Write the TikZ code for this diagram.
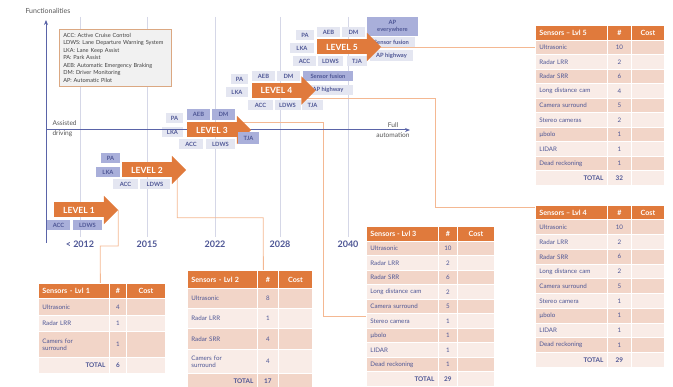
\documentclass[tikz,border=0pt]{standalone}
\usepackage{fontspec}
\setmainfont{Lato}
\usepackage{tikz}
\usetikzlibrary{arrows.meta}

\pgfdeclarelayer{background}
\pgfsetlayers{background,main}

\definecolor{lvlorange}{HTML}{E07A3C}
\definecolor{linkorange}{HTML}{F4B892}
\definecolor{axisblue}{HTML}{5A64A8}
\definecolor{gridgrey}{HTML}{D5D7E7}
\definecolor{inkblue}{HTML}{4E5695}
\definecolor{featdark}{HTML}{A9AFDA}
\definecolor{featlight}{HTML}{E4E6F1}
\definecolor{rowdark}{HTML}{F2D5C8}
\definecolor{rowlight}{HTML}{F9ECE7}
\definecolor{keyfill}{HTML}{F1F1F1}
\definecolor{keyline}{HTML}{DBA882}
\definecolor{labelgrey}{HTML}{555555}

\tikzset{
  level/.style={fill=lvlorange, text=white, font=\fontsize{8.5}{9}\selectfont\bfseries,
    minimum width=50pt, minimum height=15pt, inner sep=0pt},
  feat/.style={fill=featlight, text=inkblue, font=\fontsize{5.8}{6.5}\selectfont\bfseries,
    minimum height=10pt, inner sep=0pt},
  featnew/.style={feat, fill=featdark},
  year/.style={text=inkblue, font=\fontsize{9}{9}\selectfont\bfseries},
  link/.style={linkorange, line width=0.8pt},
  axis/.style={axisblue, line width=1pt, -{Stealth[length=5pt,width=4pt]}},
  gridline/.style={gridgrey, line width=0.6pt},
  cell/.style={draw=white, line width=0.8pt, anchor=north west, inner ysep=0pt, inner xsep=4pt,
    text=inkblue, font=\fontsize{6.2}{7.2}\selectfont},
  namecell/.style={cell, text width=64pt, align=left},
  numcell/.style={cell, inner xsep=0pt},
  totalcell/.style={cell, text width=64pt, align=right, font=\fontsize{6.4}{7}\selectfont\bfseries},
  headcell/.style={cell, fill=lvlorange, text=white, font=\fontsize{7.2}{8}\selectfont\bfseries},
  headnum/.style={headcell, inner xsep=0pt},
  key/.style={draw=keyline, fill=keyfill, line width=0.6pt, anchor=north west, text=black!75,
    text width=104pt, inner xsep=4pt, minimum height=57pt, align=left,
    font=\fontsize{5.6}{7.5}\selectfont}
}

\begin{document}
\begin{tikzpicture}[x=1pt, y=-1pt]
  \useasboundingbox (0,0) rectangle (673,387);

  % year grid
  \begin{pgfonlayer}{background}
    \foreach \gx in {80,147,215,280,348}
      \draw[gridline] (\gx,17) -- (\gx,237);
  \end{pgfonlayer}

  % abbreviations
  \node[key] (abbrev) at (59,29) {ACC: Active Cruise Control\\
    LDWS: Lane Departure Warning System\\
    LKA: Lane Keep Assist\\
    PA: Park Assist\\
    AEB: Automatic Emergency Braking\\
    DM: Driver Monitoring\\
    AP: Automatic Pilot};

  % Sensors - Lvl 1
  \node[headcell, text width=63pt, align=left, minimum height=15pt] (t1name) at (38,283) {Sensors - Lvl 1};
  \node[headnum, minimum width=17pt, minimum height=15pt] (t1num) at (109,283) {\#};
  \node[headnum, minimum width=39pt, minimum height=15pt] (t1cost) at (126,283) {Cost};
  \foreach \nm/\num/\ry/\rh [count=\i] in {Ultrasonic/4/298/17, Radar LRR/1/315/16, {Camers for\\surround}/1/331/26} {
    \ifodd\i\def\rc{rowdark}\else\def\rc{rowlight}\fi
    \node[namecell, text width=63pt, fill=\rc, minimum height=\rh pt] (t1r\i) at (38,\ry) {\nm};
    \node[numcell, fill=\rc, minimum width=17pt, minimum height=\rh pt] (t1n\i) at (109,\ry) {\num};
    \node[numcell, fill=\rc, minimum width=39pt, minimum height=\rh pt] (t1c\i) at (126,\ry) {};
  }
  \node[totalcell, text width=63pt, fill=rowlight, minimum height=16pt] (t1r4) at (38,357) {TOTAL};
  \node[numcell, fill=rowlight, minimum width=17pt, minimum height=16pt, font=\fontsize{6.4}{7}\selectfont\bfseries] (t1n4) at (109,357) {6};
  \node[numcell, fill=rowlight, minimum width=39pt, minimum height=16pt] (t1c4) at (126,357) {};

  % Sensors - Lvl 2
  \node[headcell, text width=62pt, align=left, minimum height=18pt] (t2name) at (187,270) {Sensors - Lvl 2};
  \node[headnum, minimum width=21pt, minimum height=18pt] (t2num) at (257,270) {\#};
  \node[headnum, minimum width=34pt, minimum height=18pt] (t2cost) at (278,270) {Cost};
  \foreach \nm/\num/\ry/\rh [count=\i] in {Ultrasonic/8/288/20, Radar LRR/1/308/20, Radar SRR/4/328/21, {Camers for\\surround}/4/349/24} {
    \ifodd\i\def\rc{rowdark}\else\def\rc{rowlight}\fi
    \node[namecell, text width=62pt, fill=\rc, minimum height=\rh pt] (t2r\i) at (187,\ry) {\nm};
    \node[numcell, fill=\rc, minimum width=21pt, minimum height=\rh pt] (t2n\i) at (257,\ry) {\num};
    \node[numcell, fill=\rc, minimum width=34pt, minimum height=\rh pt] (t2c\i) at (278,\ry) {};
  }
  \node[totalcell, text width=62pt, fill=rowdark, minimum height=15pt] (t2r5) at (187,373) {TOTAL};
  \node[numcell, fill=rowdark, minimum width=21pt, minimum height=15pt, font=\fontsize{6.4}{7}\selectfont\bfseries] (t2n5) at (257,373) {17};
  \node[numcell, fill=rowdark, minimum width=34pt, minimum height=15pt] (t2c5) at (278,373) {};

  % Sensors - Lvl 3
  \node[headcell, minimum height=15pt] (t3name) at (366,226) {\hbox to 64pt{Sensors - Lvl 3\hfil}};
  \node[headnum, minimum width=19pt, minimum height=15pt] (t3num) at (438,226) {\#};
  \node[headnum, minimum width=37pt, minimum height=15pt] (t3cost) at (457,226) {Cost};
  \foreach \nm/\num [count=\i] in {Ultrasonic/10, Radar LRR/2, Radar SRR/6, Long distance cam/2, Camera surround/5, Stereo camera/1, µbolo/1, LIDAR/1, Dead reckoning/1} {
    \pgfmathsetmacro{\ry}{241+(\i-1)*14.5}
    \ifodd\i\def\rc{rowdark}\else\def\rc{rowlight}\fi
    \node[namecell, fill=\rc, minimum height=14.5pt] (t3r\i) at (366,\ry) {\nm};
    \node[numcell, fill=\rc, minimum width=19pt, minimum height=14.5pt] (t3n\i) at (438,\ry) {\num};
    \node[numcell, fill=\rc, minimum width=37pt, minimum height=14.5pt] (t3c\i) at (457,\ry) {};
  }
  \node[totalcell, fill=rowlight, minimum height=14.5pt] (t3r10) at (366,371.5) {TOTAL};
  \node[numcell, fill=rowlight, minimum width=19pt, minimum height=14.5pt, font=\fontsize{6.4}{7}\selectfont\bfseries] (t3n10) at (438,371.5) {29};
  \node[numcell, fill=rowlight, minimum width=37pt, minimum height=14.5pt] (t3c10) at (457,371.5) {};

  % Sensors - Lvl 4
  \node[headcell, minimum height=14.5pt] (t4name) at (535,205) {\hbox to 64pt{Sensors -- Lvl 4\hfil}};
  \node[headnum, minimum width=24pt, minimum height=14.5pt] (t4num) at (607,205) {\#};
  \node[headnum, minimum width=33pt, minimum height=14.5pt] (t4cost) at (631,205) {Cost};
  \foreach \nm/\num [count=\i] in {Ultrasonic/10, Radar LRR/2, Radar SRR/6, Long distance cam/2, Camera surround/5, Stereo camera/1, µbolo/1, LIDAR/1, Dead reckoning/1} {
    \pgfmathsetmacro{\ry}{219.5+(\i-1)*14.75}
    \ifodd\i\def\rc{rowdark}\else\def\rc{rowlight}\fi
    \node[namecell, fill=\rc, minimum height=14.75pt] (t4r\i) at (535,\ry) {\nm};
    \node[numcell, fill=\rc, minimum width=24pt, minimum height=14.75pt] (t4n\i) at (607,\ry) {\num};
    \node[numcell, fill=\rc, minimum width=33pt, minimum height=14.75pt] (t4c\i) at (631,\ry) {};
  }
  \node[totalcell, fill=rowlight, minimum height=14.75pt] (t4r10) at (535,352.25) {TOTAL};
  \node[numcell, fill=rowlight, minimum width=24pt, minimum height=14.75pt, font=\fontsize{6.4}{7}\selectfont\bfseries] (t4n10) at (607,352.25) {29};
  \node[numcell, fill=rowlight, minimum width=33pt, minimum height=14.75pt] (t4c10) at (631,352.25) {};

  % Sensors - Lvl 5
  \node[headcell, minimum height=15pt] (t5name) at (535,25) {\hbox to 64pt{Sensors -- Lvl 5\hfil}};
  \node[headnum, minimum width=24pt, minimum height=15pt] (t5num) at (607,25) {\#};
  \node[headnum, minimum width=33pt, minimum height=15pt] (t5cost) at (631,25) {Cost};
  \foreach \nm/\num [count=\i] in {Ultrasonic/10, Radar LRR/2, Radar SRR/6, Long distance cam/4, Camera surround/5, Stereo cameras/2, µbolo/1, LIDAR/1, Dead reckoning/1} {
    \pgfmathsetmacro{\ry}{40+(\i-1)*14.5}
    \ifodd\i\def\rc{rowdark}\else\def\rc{rowlight}\fi
    \node[namecell, fill=\rc, minimum height=14.5pt] (t5r\i) at (535,\ry) {\nm};
    \node[numcell, fill=\rc, minimum width=24pt, minimum height=14.5pt] (t5n\i) at (607,\ry) {\num};
    \node[numcell, fill=\rc, minimum width=33pt, minimum height=14.5pt] (t5c\i) at (631,\ry) {};
  }
  \node[totalcell, fill=rowlight, minimum height=14.5pt] (t5r10) at (535,170.5) {TOTAL};
  \node[numcell, fill=rowlight, minimum width=24pt, minimum height=14.5pt, font=\fontsize{6.4}{7}\selectfont\bfseries] (t5n10) at (607,170.5) {32};
  \node[numcell, fill=rowlight, minimum width=33pt, minimum height=14.5pt] (t5c10) at (631,170.5) {};

  % functions per level
  \node[featnew, minimum width=23pt] (f1acc) at (58.5,225.5) {ACC};
  \node[featnew, minimum width=29pt] (f1ldws) at (87.5,225.5) {LDWS};

  \node[featnew, minimum width=19pt] (f2pa) at (110.5,158) {PA};
  \node[featnew, minimum width=24pt] (f2lka) at (108,172) {LKA};
  \node[feat, minimum width=25pt] (f2acc) at (125.5,184) {ACC};
  \node[feat, minimum width=30pt] (f2ldws) at (155,184) {LDWS};

  \node[feat, minimum width=17pt] (f3pa) at (174.5,118) {PA};
  \node[featnew, minimum width=23pt, minimum height=11pt] (f3aeb) at (198.5,114.5) {AEB};
  \node[featnew, minimum width=23pt, minimum height=11pt] (f3dm) at (223.5,114.5) {DM};
  \node[feat, minimum width=21pt] (f3lka) at (172.5,132) {LKA};
  \node[feat, minimum width=24pt] (f3acc) at (191,144.5) {ACC};
  \node[feat, minimum width=29pt] (f3ldws) at (220.5,144.5) {LDWS};

  \node[feat, minimum width=17pt] (f4pa) at (239.5,79) {PA};
  \node[feat, minimum width=23pt] (f4aeb) at (263.5,76) {AEB};
  \node[feat, minimum width=23pt] (f4dm) at (288.5,76) {DM};
  \node[featnew, minimum width=50pt] (f4fusion) at (328,76) {Sensor fusion};
  \node[feat, minimum width=22pt] (f4lka) at (237,92) {LKA};
  \node[feat, minimum width=50pt] (f4aphw) at (328,90) {AP highway};
  \node[feat, minimum width=25pt] (f4acc) at (260.5,105) {ACC};
  \node[feat, minimum width=26pt] (f4ldws) at (287.5,105) {LDWS};
  \node[feat, minimum width=21pt] (f4tja) at (312.5,105) {TJA};

  \node[feat, minimum width=18pt] (f5pa) at (305,35) {PA};
  \node[feat, minimum width=23pt] (f5aeb) at (328.5,32) {AEB};
  \node[feat, minimum width=23pt] (f5dm) at (353.5,32) {DM};
  \node[featnew, minimum width=51pt, minimum height=19pt, align=center] (f5apall) at (392.5,26.5) {AP\\everywhere};
  \node[feat, minimum width=24pt] (f5lka) at (302,48) {LKA};
  \node[feat, minimum width=47pt] (f5fusion) at (391.5,42.5) {Sensor fusion};
  \node[feat, minimum width=43pt, minimum height=11pt] (f5aphw) at (391.5,55.5) {AP highway};
  \node[feat, minimum width=23pt] (f5acc) at (304.5,61) {ACC};
  \node[feat, minimum width=25pt] (f5ldws) at (330.5,61) {LDWS};
  \node[feat, minimum width=20pt] (f5tja) at (357,61) {TJA};

  % axes
  \draw[axis] (46,243) -- (46,20);
  \draw[axis] (46,130) -- (410,130);

  % level arrows
  \node[level] (l1) at (79,210) {LEVEL 1};
  \node[level] (l2) at (147,170) {LEVEL 2};
  \node[level] (l3) at (212,130) {LEVEL 3};
  \node[level] (l4) at (276.5,90.5) {LEVEL 4};
  \node[level] (l5) at (342,47) {LEVEL 5};
  \foreach \l in {l1,l2,l3,l4,l5} {
    \coordinate (\l tip) at ([xshift=14pt]\l.east);
    \fill[lvlorange] ([xshift=-0.3pt,yshift=6.5pt]\l.north east) -- (\l tip)
      -- ([xshift=-0.3pt,yshift=-6.5pt]\l.south east) -- cycle;
  }
  \node[featnew, minimum width=21pt, minimum height=12pt] (f3tja) at (248.5,138) {TJA};

  % links from each level to its sensor table
  \begin{pgfonlayer}{background}
    \draw[link] (l1tip) |- ++(-18,36) -- ([xshift=26.5pt]t1name.north);
    \draw[link] ([xshift=5pt]l2.south east) |- ++(86,40) -- ([xshift=-4.5pt]t2num.north);
    \draw[link] (l3.north east) -- ++(86,0) |- ([yshift=-3pt]t3r6.north west);
    \draw[link] (l4.south east) -- ++(134,0) |- ([yshift=-2pt]t4name.north west);
    \draw[link] (l5tip) -- (l5tip -| t5r1.west);
  \end{pgfonlayer}

  % labels
  \node[anchor=west, text=labelgrey, font=\fontsize{7}{8}\selectfont] (yname) at (22,11) {Functionalities};
  \node[anchor=west, align=left, text=labelgrey, font=\fontsize{6.6}{10}\selectfont] (xstart) at (49,129) {Assisted\\driving};
  \node[align=center, text=labelgrey, font=\fontsize{6.6}{10}\selectfont] (xend) at (393,130) {Full\\automation};
  \node[year] (y2012) at (80,244) {< 2012};
  \node[year] (y2015) at (147,244) {2015};
  \node[year] (y2022) at (215,244) {2022};
  \node[year] (y2028) at (280,244) {2028};
  \node[year] (y2040) at (348,244) {2040};
\end{tikzpicture}
\end{document}
